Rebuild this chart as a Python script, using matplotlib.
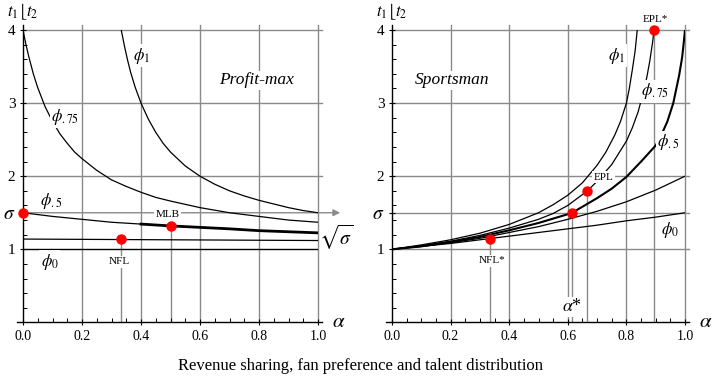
import numpy as np
import matplotlib
matplotlib.use("Agg")
import matplotlib.pyplot as plt

plt.rcParams['font.family'] = ['Liberation Serif', 'DejaVu Serif']
plt.rcParams['mathtext.fontset'] = 'stix'

# ---- data ----
sigma = 1.5
x_ticks = [0.0, 0.2, 0.4, 0.6, 0.8, 1.0]
x_tick_labels = ['0.0', '0.2', '0.4', '0.6', '0.8', '1.0']
y_ticks = [1, 1.5, 2, 3, 4]
y_tick_labels = ['1', r'$\sigma$', '2', '3', '4']

# left panel: profit maximisation
pm_phi1_a = [0.333, 0.337, 0.345, 0.355, 0.365, 0.38, 0.4, 0.425, 0.45, 0.475, 0.5,
             0.55, 0.6, 0.65, 0.7, 0.75, 0.8, 0.85, 0.9, 0.95, 1.0]
pm_phi1_t = [4.0, 3.92, 3.76, 3.58, 3.42, 3.22, 3.0, 2.78, 2.6, 2.45, 2.33,
             2.14, 2.0, 1.89, 1.8, 1.73, 1.67, 1.62, 1.57, 1.53, 1.5]
pm_phi75_a = [0.0, 0.01, 0.02, 0.035, 0.05, 0.075, 0.1, 0.125, 0.15, 0.175, 0.2,
              0.25, 0.3, 0.35, 0.4, 0.45, 0.5, 0.6, 0.7, 0.8, 0.9, 1.0]
pm_phi75_t = [4.0, 3.8, 3.63, 3.4, 3.21, 2.95, 2.75, 2.58, 2.45, 2.33, 2.24,
              2.08, 1.95, 1.86, 1.78, 1.71, 1.66, 1.57, 1.5, 1.45, 1.4, 1.37]
pm_phi5_a = [0.0, 0.1, 0.2, 0.3, 0.4, 0.5, 0.6, 0.7, 0.8, 0.9, 1.0]
pm_phi5_t = [1.5, 1.45, 1.41, 1.37, 1.345, 1.32, 1.3, 1.28, 1.255, 1.24, 1.225]
pm_flat_a = [0.0, 0.25, 0.5, 0.75, 1.0]
pm_flat_t = [1.14, 1.135, 1.13, 1.125, 1.12]
pm_phi0_a = [0.0, 1.0]
pm_phi0_t = [1.0, 1.0]
pm_pts_a = [0.0, 0.333, 0.5]
pm_pts_t = [1.5, 1.14, 1.315]

# right panel: sportsman
sp_phi1_a = [0.0, 0.1, 0.2, 0.3, 0.4, 0.5, 0.55, 0.6, 0.65, 0.7, 0.73, 0.76, 0.78,
             0.8, 0.81, 0.82, 0.83, 0.837]
sp_phi1_t = [1.0, 1.06, 1.13, 1.22, 1.34, 1.5, 1.61, 1.74, 1.91, 2.15, 2.33, 2.56, 2.75,
             3.0, 3.2, 3.45, 3.72, 4.0]
sp_phi75_a = [0.0, 0.1, 0.2, 0.3, 0.4, 0.5, 0.55, 0.6, 0.667, 0.7, 0.75, 0.8, 0.82, 0.84,
              0.86, 0.87, 0.88, 0.89, 0.894]
sp_phi75_t = [1.0, 1.05, 1.11, 1.19, 1.29, 1.41, 1.49, 1.6, 1.8, 1.93, 2.16, 2.48, 2.66, 2.88,
              3.18, 3.36, 3.58, 3.85, 4.0]
sp_phi5_a = [0.0, 0.1, 0.2, 0.3, 0.4, 0.5, 0.6, 0.615, 0.7, 0.75, 0.8, 0.85, 0.9, 0.92,
             0.94, 0.96, 0.98, 0.99, 0.995, 1.0]
sp_phi5_t = [1.0, 1.04, 1.1, 1.17, 1.26, 1.36, 1.48, 1.5, 1.7, 1.83, 1.99, 2.2, 2.42, 2.57,
             2.75, 3.0, 3.38, 3.62, 3.8, 4.0]
sp_phi25_a = [0.0, 0.1, 0.2, 0.3, 0.4, 0.5, 0.6, 0.7, 0.8, 0.9, 1.0]
sp_phi25_t = [1.0, 1.04, 1.09, 1.15, 1.23, 1.31, 1.41, 1.52, 1.65, 1.81, 2.0]
sp_phi0_a = [0.0, 0.1, 0.2, 0.3, 0.4, 0.5, 0.6, 0.7, 0.8, 0.9, 1.0]
sp_phi0_t = [1.0, 1.04, 1.08, 1.13, 1.18, 1.23, 1.28, 1.33, 1.39, 1.44, 1.5]
sp_pts_a = [0.333, 0.615, 0.667, 0.893]
sp_pts_t = [1.14, 1.5, 1.8, 4.0]

GRID = '#8a8a8a'
fig = plt.figure(figsize=(7.22, 3.78), dpi=100)
ax1 = fig.add_axes([23 / 722, 55.6 / 378, 295 / 722, 292.4 / 378])
ax2 = fig.add_axes([392 / 722, 55.6 / 378, 293 / 722, 292.4 / 378])


def setup(ax, hgrid):
    ax.set_xlim(0, 1)
    ax.set_ylim(0, 4)
    for s in ax.spines.values():
        s.set_visible(False)
    ax.plot([0, 0], [0, 4.07], color='k', lw=1, clip_on=False, zorder=5)
    ax.plot([-0.02, 1.015], [0, 0], color='k', lw=1, clip_on=False, zorder=5)
    for xv in x_ticks[1:]:
        ax.plot([xv, xv], [0, 4.07], color=GRID, lw=1, clip_on=False, zorder=1)
    for yv in hgrid:
        ax.plot([0, 1.015], [yv, yv], color=GRID, lw=1, clip_on=False, zorder=1)
    ax.set_xticks(x_ticks)
    ax.set_xticklabels(x_tick_labels, fontsize=10)
    ax.set_yticks(y_ticks)
    ax.set_yticklabels(y_tick_labels, fontsize=11)
    ax.get_yticklabels()[1].set_fontsize(14)
    ax.set_xticks(np.arange(0, 1.0001, 0.05), minor=True)
    ax.set_yticks(np.arange(0, 4.0001, 0.2), minor=True)
    ax.tick_params(which='major', direction='inout', length=5, width=0.8, pad=3)
    ax.tick_params(which='minor', direction='in', length=3, width=0.7)
    ax.text(1.07, 0.0, r'$\alpha$', fontsize=15, ha='center', va='center')
    ax.text(0.0, 4.25, r'$t_1\lfloor t_2$', fontsize=12, ha='center', va='center')


def lab(ax, x, y, s, size=12, style='normal'):
    ax.text(x, y, s, fontsize=size, ha='center', va='center', zorder=6, style=style,
            bbox=dict(facecolor='white', edgecolor='none', pad=1))


# ---- left: profit-max ----
setup(ax1, [2, 3, 4])
ax1.annotate('', xy=(1.075, sigma), xytext=(0, sigma), zorder=1,
             arrowprops=dict(arrowstyle='-|>', color=GRID, lw=1, mutation_scale=10,
                             shrinkA=0, shrinkB=0), annotation_clip=False)
for a, t in zip(pm_pts_a[1:], pm_pts_t[1:]):
    ax1.plot([a, a], [0, t], color=GRID, lw=1, zorder=1)
ax1.plot(pm_phi1_a, pm_phi1_t, color='k', lw=0.9, zorder=3)
ax1.plot(pm_phi75_a, pm_phi75_t, color='k', lw=0.9, zorder=3)
ax1.plot(pm_phi5_a, pm_phi5_t, color='k', lw=0.9, zorder=3)
ax1.plot(pm_phi5_a[4:], pm_phi5_t[4:], color='k', lw=2.0, zorder=3)
ax1.plot(pm_flat_a, pm_flat_t, color='k', lw=0.9, zorder=3)
ax1.plot(pm_phi0_a, pm_phi0_t, color='k', lw=1.0, zorder=3)
ax1.plot(pm_pts_a, pm_pts_t, 'o', color='red', ms=6.5, zorder=7, clip_on=False)

lab(ax1, 0.402, 3.65, r'$\phi_1$')
lab(ax1, 0.142, 2.81, r'$\phi_{.75}$')
lab(ax1, 0.095, 1.66, r'$\phi_{.5}$')
lab(ax1, 0.09, 0.83, r'$\phi_0$')
lab(ax1, 0.79, 3.31, 'Profit-max', 12.5, 'italic')
lab(ax1, 0.327, 0.83, 'NFL', 8)
lab(ax1, 0.49, 1.48, 'MLB', 8)
ax1.text(1.005, 1.16, r'$\sqrt{\sigma}$', fontsize=14, ha='left', va='center')

# ---- right: sportsman ----
setup(ax2, [1, sigma, 2, 3, 4])
for a, t in zip(sp_pts_a, sp_pts_t):
    ax2.plot([a, a], [0, t], color=GRID, lw=1, zorder=1)
ax2.plot(sp_phi1_a, sp_phi1_t, color='k', lw=0.9, zorder=3)
ax2.plot(sp_phi75_a, sp_phi75_t, color='k', lw=0.9, zorder=3)
ax2.plot(sp_phi5_a, sp_phi5_t, color='k', lw=1.5, zorder=3)
ax2.plot(sp_phi25_a, sp_phi25_t, color='k', lw=0.9, zorder=3)
ax2.plot(sp_phi0_a, sp_phi0_t, color='k', lw=0.9, zorder=3)
ax2.plot(sp_pts_a, sp_pts_t, 'o', color='red', ms=6.5, zorder=7, clip_on=False)

lab(ax2, 0.767, 3.65, r'$\phi_1$')
lab(ax2, 0.898, 3.16, r'$\phi_{.75}$')
lab(ax2, 0.943, 2.47, r'$\phi_{.5}$')
lab(ax2, 0.949, 1.27, r'$\phi_0$')
lab(ax2, 0.204, 3.31, 'Sportsman', 12.5, 'italic')
lab(ax2, 0.34, 0.84, 'NFL*', 8)
lab(ax2, 0.722, 1.985, 'EPL', 8)
lab(ax2, 0.898, 4.14, 'EPL*', 8)
lab(ax2, 0.615, 0.215, r'$\alpha$*', 13)

fig.text(0.5, 0.032, 'Revenue sharing, fan preference and talent distribution',
         ha='center', va='center', fontsize=12)

fig.savefig('out.png', dpi=100)
